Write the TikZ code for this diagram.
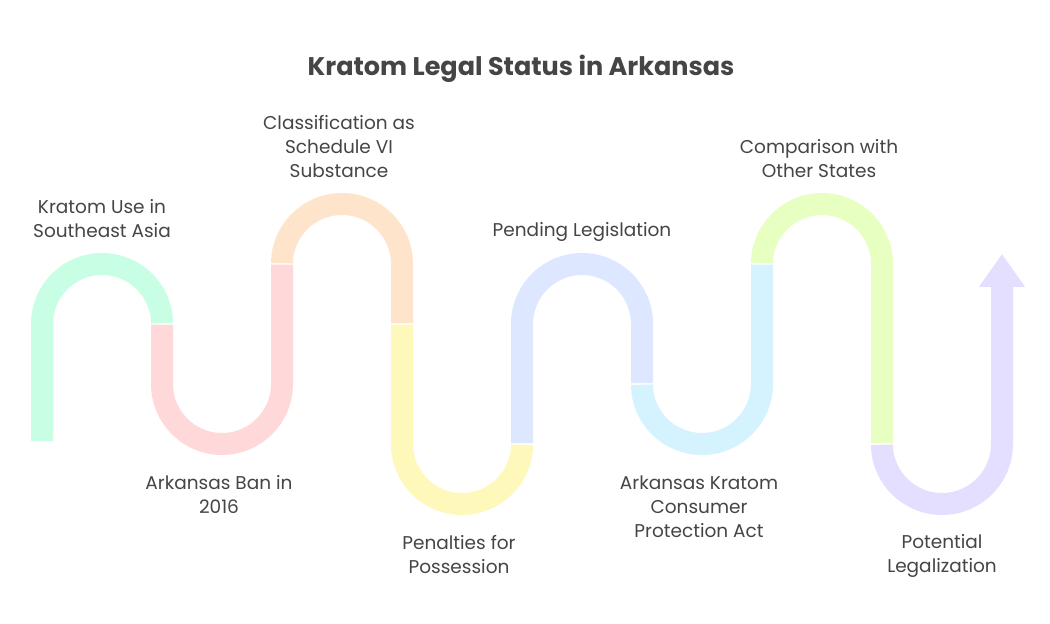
\documentclass[tikz,border=0pt]{standalone}
\usepackage{fontspec}
\setmainfont{Poppins}
\usetikzlibrary{arrows.meta}
\definecolor{txt}{HTML}{454545}
\definecolor{cmint}{HTML}{C8FFE4}
\definecolor{cpink}{HTML}{FFD9D9}
\definecolor{cpeach}{HTML}{FFE4CC}
\definecolor{cyellow}{HTML}{FFF8BB}
\definecolor{cblue}{HTML}{DDE7FF}
\definecolor{ccyan}{HTML}{D4F3FF}
\definecolor{clime}{HTML}{E8FFC2}
\definecolor{clav}{HTML}{E4DFFF}
\begin{document}
\begin{tikzpicture}[x=1pt,y=1pt,
  band/.style={line width=22pt, line cap=butt, shorten <=0.75pt, shorten >=0.75pt},
  lab/.style={text=txt, font=\fontsize{18.5}{24}\selectfont, align=center}]
\useasboundingbox[fill=white] (0,0) rectangle (1050,624);
\node[text=txt, font=\bfseries\fontsize{25.5}{26}\selectfont] (title) at (521,555) {Kratom Legal Status in Arkansas};
\coordinate (pt0) at (42,182);
\coordinate (pt1) at (162,300);
\coordinate (pt2) at (282,360);
\coordinate (pt3) at (402,300);
\coordinate (pt4) at (522,180);
\coordinate (pt5) at (642,240);
\coordinate (pt6) at (762,360);
\coordinate (pt7) at (882,180);
\coordinate (tip) at (1002,370);
\draw[band, cmint] (pt0) -- ++(0,118) arc[start angle=180, end angle=0, radius=60];
\draw[band, cpink] (pt1) -- ++(0,-60) arc[start angle=180, end angle=360, radius=60] -- (pt2);
\draw[band, cpeach] (pt2) arc[start angle=180, end angle=0, radius=60] -- (pt3);
\draw[band, cyellow] (pt3) -- ++(0,-120) arc[start angle=180, end angle=360, radius=60];
\draw[band, cblue] (pt4) -- ++(0,120) arc[start angle=180, end angle=0, radius=60] -- (pt5);
\draw[band, ccyan] (pt5) arc[start angle=180, end angle=360, radius=60] -- (pt6);
\draw[band, clime] (pt6) arc[start angle=180, end angle=0, radius=60] -- (pt7);
\draw[band, clav, shorten >=0pt, -{Triangle[width=44pt, length=33pt]}] (pt7) arc[start angle=180, end angle=360, radius=60] -- (tip);
\node[lab] (lab1) at (102,405.5) {Kratom Use in\\Southeast Asia};
\node[lab] (lab2) at (219,129.5) {Arkansas Ban in\\2016};
\node[lab] (lab3) at (339,477.5) {Classification as\\Schedule VI\\Substance};
\node[lab] (lab4) at (459,69) {Penalties for\\Possession};
\node[lab] (lab5) at (582,392.5) {Pending Legislation};
\node[lab] (lab6) at (699,117.5) {Arkansas Kratom\\Consumer\\Protection Act};
\node[lab] (lab7) at (819,465.5) {Comparison with\\Other States};
\node[lab] (lab8) at (942,68.5) {Potential\\Legalization};
\end{tikzpicture}
\end{document}
